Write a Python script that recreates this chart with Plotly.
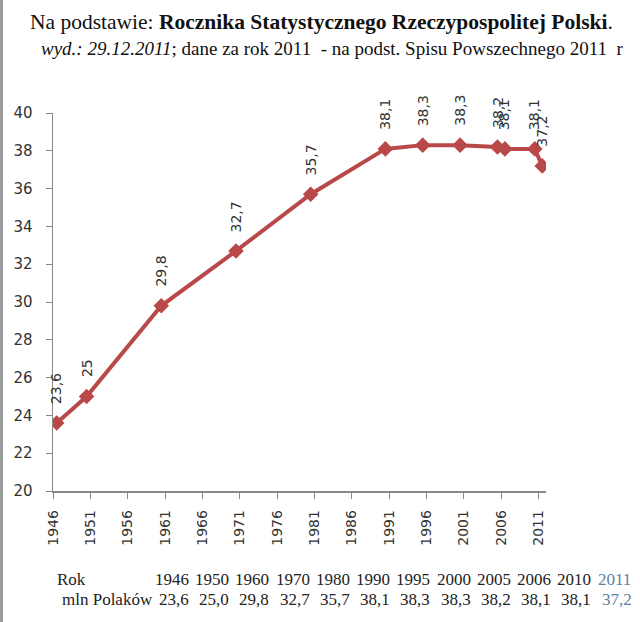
import plotly.graph_objects as go

# ---- data ----
years = [1946, 1950, 1960, 1970, 1980, 1990, 1995, 2000, 2005, 2006, 2010, 2011]
values = [23.6, 25.0, 29.8, 32.7, 35.7, 38.1, 38.3, 38.3, 38.2, 38.1, 38.1, 37.2]
point_labels = ["23,6", "25", "29,8", "32,7", "35,7", "38,1", "38,3", "38,3",
                "38,2", "38,1", "38,1", "37,2"]
table_values = ["23,6", "25,0", "29,8", "32,7", "35,7", "38,1", "38,3", "38,3",
                "38,2", "38,1", "38,1", "37,2"]
tick_years = list(range(1946, 2012, 5))
y_ticks = list(range(20, 41, 2))

title_1 = "Na podstawie: <b>Rocznika Statystycznego Rzeczypospolitej Polski</b>."
title_2 = ("<i>wyd.: 29.12.2011</i>; dane za rok 2011&nbsp; - na podst. "
           "Spisu Powszechnego 2011&nbsp; r")

# ---- layout geometry (pixels) ----
W, H = 640, 622
L, R, T, B = 53, 93.5, 113, 131
pw, ph = W - L - R, H - T - B


def px(x):
    return (x - L) / pw


def py(y):
    return (H - B - y) / ph


LINE_COLOR = "#B94848"
dates = [f"{y}-07-01" for y in years]

fig = go.Figure()
fig.add_trace(go.Scatter(
    x=dates, y=values, mode="lines+markers",
    line=dict(color=LINE_COLOR, width=4),
    marker=dict(symbol="diamond", size=12, color=LINE_COLOR),
    hoverinfo="skip", showlegend=False,
))

annotations = []
for d, v, t in zip(dates, values, point_labels):
    annotations.append(dict(
        x=d, y=v, xref="x", yref="y", text=t, showarrow=False,
        textangle=-90, yanchor="bottom", xanchor="center", yshift=17,
        font=dict(family="DejaVu Sans", size=14, color="#333333"),
    ))

annotations.append(dict(
    x=px(322), y=py(22), xref="paper", yref="paper", text=title_1,
    showarrow=False, xanchor="center", yanchor="middle",
    font=dict(family="Liberation Serif", size=21.5, color="#111111"),
))
annotations.append(dict(
    x=px(333), y=py(48), xref="paper", yref="paper", text=title_2,
    showarrow=False, xanchor="center", yanchor="middle",
    font=dict(family="Liberation Serif", size=19, color="#111111"),
))

# table below the chart
tfont = dict(family="Liberation Serif", size=17, color="#222222")
annotations.append(dict(x=px(55), y=py(579), xref="paper", yref="paper",
                        text="Rok", showarrow=False, xanchor="left",
                        yanchor="middle", font=tfont))
annotations.append(dict(x=px(60), y=py(599), xref="paper", yref="paper",
                        text="mln Polaków", showarrow=False, xanchor="left",
                        yanchor="middle", font=tfont))
col0, step = 172, 40.3
n = len(years)
for i, (yr, tv) in enumerate(zip(years, table_values)):
    c = "#5B7FA6" if i == n - 1 else "#222222"
    f = dict(family="Liberation Serif", size=17, color=c)
    cx = col0 + i * step
    annotations.append(dict(x=px(cx), y=py(579), xref="paper", yref="paper",
                            text=str(yr), showarrow=False, xanchor="center",
                            yanchor="middle", font=f))
    annotations.append(dict(x=px(cx + 2), y=py(599), xref="paper", yref="paper",
                            text=tv, showarrow=False, xanchor="center",
                            yanchor="middle", font=f))

fig.update_layout(
    width=W, height=H,
    margin=dict(l=L, r=R, t=T, b=B, pad=0),
    paper_bgcolor="white", plot_bgcolor="white",
    annotations=annotations,
    shapes=[dict(type="line", xref="paper", yref="paper",
                 x0=px(1.5), x1=px(1.5), y0=py(H), y1=py(0),
                 line=dict(color="#9a9a9a", width=3))],
    xaxis=dict(
        type="date",
        range=["1946-01-01", "2012-01-01"],
        tickvals=[f"{y}-01-01" for y in tick_years],
        ticktext=[str(y) for y in tick_years],
        tickangle=-90,
        ticks="outside", ticklen=6, tickcolor="#888888",
        ticklabelstandoff=6,
        showline=True, linecolor="#888888", linewidth=1.5,
        showgrid=False, zeroline=False,
        tickfont=dict(family="DejaVu Sans", size=14, color="#333333"),
    ),
    yaxis=dict(
        range=[20, 40],
        tickvals=y_ticks,
        ticks="outside", ticklen=6, tickcolor="#888888",
        ticklabelstandoff=10,
        showline=True, linecolor="#888888", linewidth=1.5,
        showgrid=False, zeroline=False,
        tickfont=dict(family="DejaVu Sans", size=15, color="#333333"),
    ),
)

fig.write_html("out.html",
               config={"displayModeBar": False, "staticPlot": True},
               post_script="document.body.style.margin='0px';")
